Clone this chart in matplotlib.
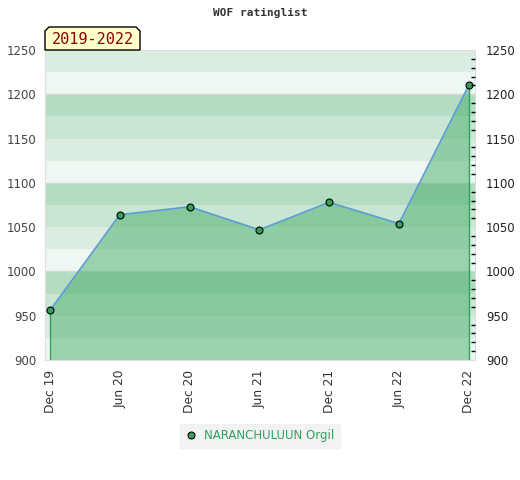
import numpy as np
import matplotlib.pyplot as plt
from matplotlib.patches import Polygon
from matplotlib.ticker import MultipleLocator

# data
months = ['Dec 19', 'Jun 20', 'Dec 20', 'Jun 21', 'Dec 21', 'Jun 22', 'Dec 22']
rating = [956, 1064, 1073, 1047, 1078, 1054, 1210]
player = 'NARANCHULUUN Orgil'
period = '2019-2022'
y_ticks = [900, 950, 1000, 1050, 1100, 1150, 1200, 1250]

band_colors = ['#eef7f1', '#dbede1', '#c8e6d2', '#b3dcc2']  # bottom-up inside each 100

fig = plt.figure(figsize=(5.2, 4.8), dpi=100)
ax = fig.add_axes([45 / 520, 1 - 360 / 480, 430 / 520, 310 / 480])

x = np.arange(len(months))
ax.set_xlim(-0.072, 6.09)
ax.set_ylim(900, 1250)

# background bands
for i, lo in enumerate(range(900, 1250, 25)):
    ax.axhspan(lo, lo + 25, color=band_colors[i % 4], lw=0, zorder=0)
for g in [1000, 1100, 1200]:
    ax.axhline(g, color='#d6d6d6', lw=1, zorder=1)

# area + line
ax.fill_between(x, rating, 900, color='#47ae6a', alpha=0.5, lw=0, zorder=2)
ax.vlines([x[0], x[-1]], 900, [rating[0], rating[-1]], color='#2ca25f', lw=1, zorder=3)
ax.plot(x, rating, color='#5b9bd5', lw=1.2, zorder=4)
pts_line, = ax.plot(x, rating, ls='none', marker='o', ms=5, mfc='#33a05a', mec='black',
                    mew=0.8, zorder=5, label=player)

for s in ax.spines.values():
    s.set_color('#dddddd')

ax.set_xticks(x)
ax.set_xticklabels(months, rotation=90, fontsize=8.8, color='#333333')
ax.tick_params(axis='x', length=0, pad=7)
ax.set_yticks(y_ticks)
ax.set_yticklabels([str(v) for v in y_ticks], fontsize=8.5, color='#444444')
ax.tick_params(axis='y', length=0, pad=6)

ax2 = ax.twinx()
ax2.set_ylim(900, 1250)
ax2.set_yticks(y_ticks)
ax2.set_yticklabels([str(v) for v in y_ticks], fontsize=8.5, color='#222222')
ax2.yaxis.set_minor_locator(MultipleLocator(10))
ax2.tick_params(axis='y', which='major', length=0, pad=8)
ax2.tick_params(axis='y', which='minor', length=3, width=1, direction='in', color='black')
for s in ax2.spines.values():
    s.set_visible(False)

fig.text(0.5, 1 - 13 / 480, 'WOF ratinglist', ha='center', va='center',
         fontsize=8, fontweight='bold', family='DejaVu Sans Mono', color='#333333')

# period badge
bx0, bx1, by0, by1 = 45, 140, 50, 27
pts = [(bx0, by0), (bx0, by1 + 4), (bx0 + 4, by1), (bx1 - 4, by1), (bx1, by1 + 4), (bx1, by0)]
badge = Polygon([(px / 520, 1 - py / 480) for px, py in pts], closed=True,
                transform=fig.transFigure, facecolor='#ffffcc', edgecolor='black', lw=1,
                zorder=10)
fig.patches.append(badge)
fig.text((bx0 + bx1) / 2 / 520, 1 - 40 / 480, period, ha='center', va='center',
         fontsize=11, color='#8b0000', family='DejaVu Sans Mono', zorder=11)

leg = fig.legend(handles=[pts_line], loc='center', bbox_to_anchor=(260 / 520, 1 - 436 / 480),
                 frameon=True, fontsize=8.5, handletextpad=0.6, handlelength=1,
                 borderpad=0.5, fancybox=False)
leg.get_frame().set_facecolor('#f0f0f0')
leg.get_frame().set_edgecolor('#f0f0f0')
for t in leg.get_texts():
    t.set_color('#2ca25f')

fig.savefig('out.png', dpi=100)
